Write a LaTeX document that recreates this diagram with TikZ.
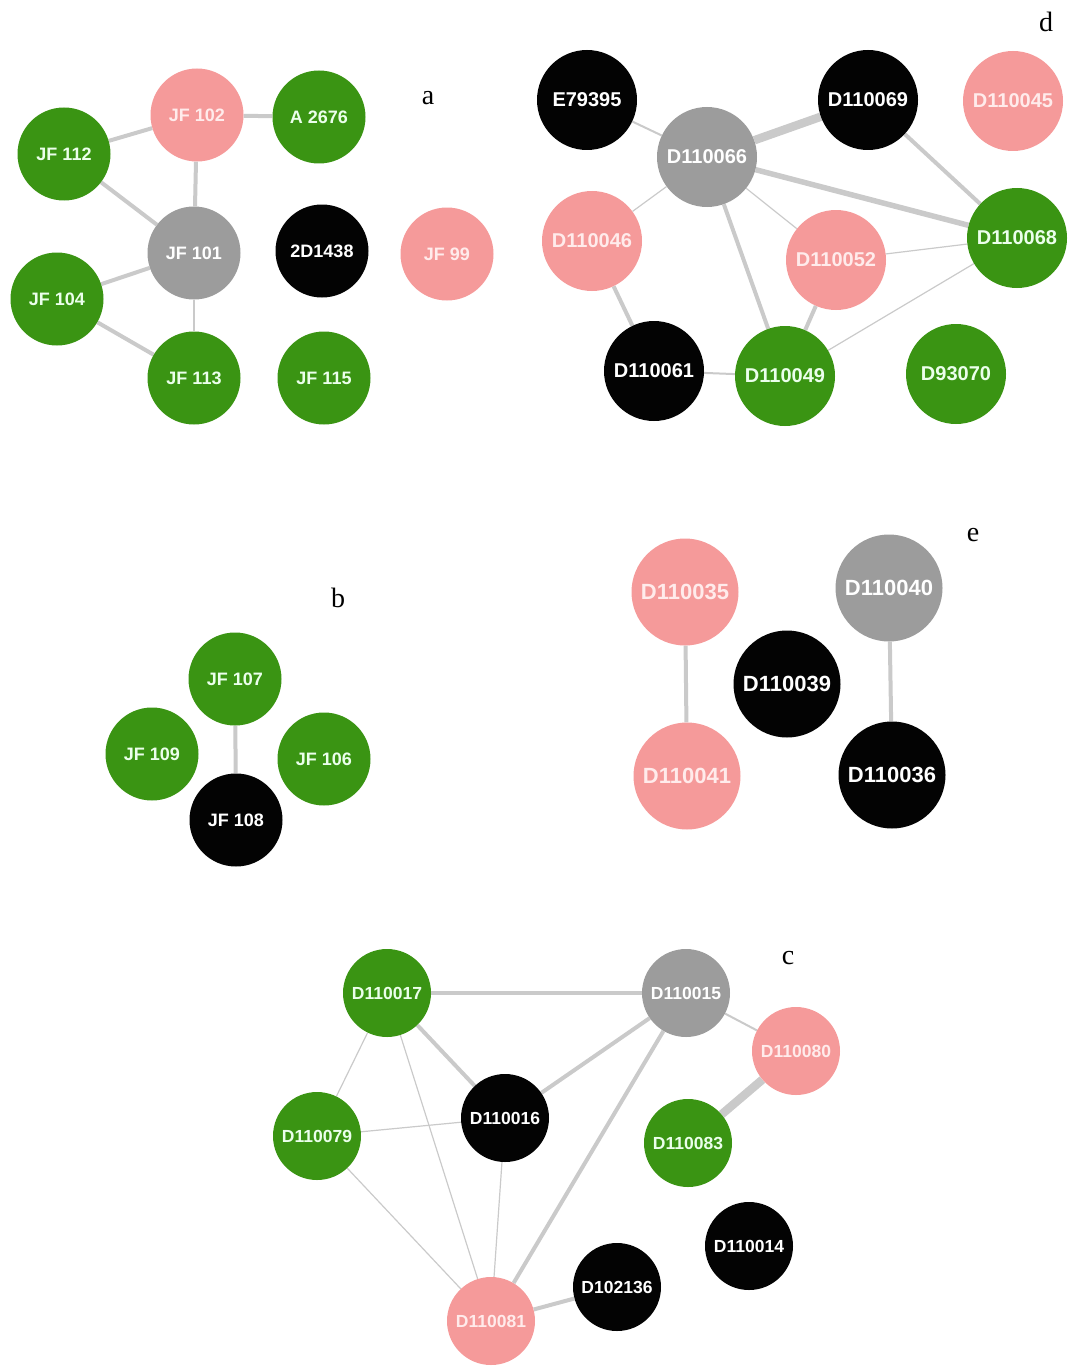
\documentclass[tikz,border=0pt]{standalone}
\usepackage{fontspec}
\setmainfont{Liberation Sans}
\newfontfamily\labserif{Liberation Serif}
\usetikzlibrary{backgrounds}
\definecolor{ngreen}{HTML}{3A9413}
\definecolor{npink}{HTML}{F59A9A}
\definecolor{ngray}{HTML}{9C9C9C}
\definecolor{nblack}{HTML}{030303}
\definecolor{edgegray}{HTML}{CACACA}
\begin{document}
\begin{tikzpicture}[x=1pt,y=-1pt,
  vnode/.style={circle, inner sep=0pt, text=white, font=\bfseries\fontsize{18}{18}\selectfont},
  sa/.style={vnode, minimum size=93pt},
  sd/.style={vnode, minimum size=100pt, font=\bfseries\fontsize{20}{20}\selectfont},
  se/.style={vnode, minimum size=107pt, font=\bfseries\fontsize{22}{22}\selectfont},
  sc/.style={vnode, minimum size=88pt, font=\bfseries\fontsize{17.5}{17.5}\selectfont},
  gn/.style={fill=ngreen, text=green!8!white},
  pk/.style={fill=npink, text=white!92!red},
  gy/.style={fill=ngray},
  bk/.style={fill=nblack},
  panel/.style={font=\labserif\fontsize{28}{28}\selectfont, inner sep=0pt},
  ethin/.style={draw=edgegray, line width=1.2pt},
  esmall/.style={draw=edgegray, line width=2pt},
  emid/.style={draw=edgegray, line width=4pt},
  ebig/.style={draw=edgegray, line width=5.5pt},
  ehuge/.style={draw=edgegray, line width=8.5pt}]
\useasboundingbox (0,0) rectangle (1068,1367);

% ---------- a ----------
\node[panel] (la) at (428,98) {a};
\node[sa,pk] (jf102) at (197,115) {JF 102};
\node[sa,gn] (a2676) at (319,117) {A 2676};
\node[sa,gn] (jf112) at (64,154) {JF 112};
\node[sa,gy] (jf101) at (194,253) {JF 101};
\node[sa,bk] (d1438) at (322,251) {2D1438};
\node[sa,pk] (jf99) at (447,254) {JF 99};
\node[sa,gn] (jf104) at (57,299) {JF 104};
\node[sa,gn] (jf113) at (194,378) {JF 113};
\node[sa,gn] (jf115) at (324,378) {JF 115};

% ---------- d ----------
\node[panel] (ld) at (1046,22) {d};
\node[sd,bk] (e79395) at (587,100) {E79395};
\node[sd,gy] (d066) at (707,157) {D110066};
\node[sd,bk] (d069) at (868,100) {D110069};
\node[sd,pk] (d045) at (1013,101) {D110045};
\node[sd,pk] (d046) at (592,241) {D110046};
\node[sd,pk] (d052) at (836,260) {D110052};
\node[sd,gn] (d068) at (1017,238) {D110068};
\node[sd,bk] (d061) at (654,371) {D110061};
\node[sd,gn] (d049) at (785,376) {D110049};
\node[sd,gn] (d93070) at (956,374) {D93070};

% ---------- b ----------
\node[panel] (lb) at (338,598) {b};
\node[sa,gn] (jf107) at (235,679) {JF 107};
\node[sa,gn] (jf109) at (152,754) {JF 109};
\node[sa,gn] (jf106) at (324,759) {JF 106};
\node[sa,bk] (jf108) at (236,820) {JF 108};

% ---------- e ----------
\node[panel] (le) at (973,535) {e};
\node[se,pk] (d035) at (685,592) {D110035};
\node[se,gy] (d040) at (889,588) {D110040};
\node[se,bk] (d039) at (787,684) {D110039};
\node[se,pk] (d041) at (687,776) {D110041};
\node[se,bk] (d036) at (892,775) {D110036};

% ---------- c ----------
\node[panel] (lc) at (788,958) {c};
\node[sc,gn] (d017) at (387,993) {D110017};
\node[sc,gy] (d015) at (686,993) {D110015};
\node[sc,pk] (d080) at (796,1051) {D110080};
\node[sc,gn] (d079) at (317,1136) {D110079};
\node[sc,bk] (d016) at (505,1118) {D110016};
\node[sc,gn] (d083) at (688,1143) {D110083};
\node[sc,bk] (d014) at (749,1246) {D110014};
\node[sc,bk] (d102136) at (617,1287) {D102136};
\node[sc,pk] (d081) at (491,1321) {D110081};

\begin{scope}[on background layer]
% a
\draw[emid] (jf102) -- (a2676);
\draw[emid] (jf102) -- (jf112);
\draw[emid] (jf102) -- (jf101);
\draw[emid] (jf112) -- (jf101);
\draw[emid] (jf101) -- (jf104);
\draw[esmall] (jf101) -- (jf113);
\draw[emid] (jf104) -- (jf113);
% d
\draw[esmall] (e79395) -- (d066);
\draw[ehuge] (d066) -- (d069);
\draw[ebig] (d066) -- (d068);
\draw[ethin] (d066) -- (d046);
\draw[ethin] (d066) -- (d052);
\draw[emid] (d066) -- (d049);
\draw[emid] (d069) -- (d068);
\draw[ethin] (d052) -- (d068);
\draw[emid] (d052) -- (d049);
\draw[ethin] (d068) -- (d049);
\draw[emid] (d046) -- (d061);
\draw[esmall] (d061) -- (d049);
% b
\draw[emid] (jf107) -- (jf108);
% e
\draw[emid] (d035) -- (d041);
\draw[emid] (d040) -- (d036);
% c
\draw[emid] (d017) -- (d015);
\draw[emid] (d017) -- (d016);
\draw[ethin] (d017) -- (d079);
\draw[ethin] (d017) -- (d081);
\draw[ethin] (d079) -- (d016);
\draw[ethin] (d079) -- (d081);
\draw[ethin] (d016) -- (d081);
\draw[emid] (d016) -- (d015);
\draw[emid] (d015) -- (d081);
\draw[esmall] (d015) -- (d080);
\draw[ehuge] (d080) -- (d083);
\draw[emid] (d081) -- (d102136);
\end{scope}
\end{tikzpicture}
\end{document}
